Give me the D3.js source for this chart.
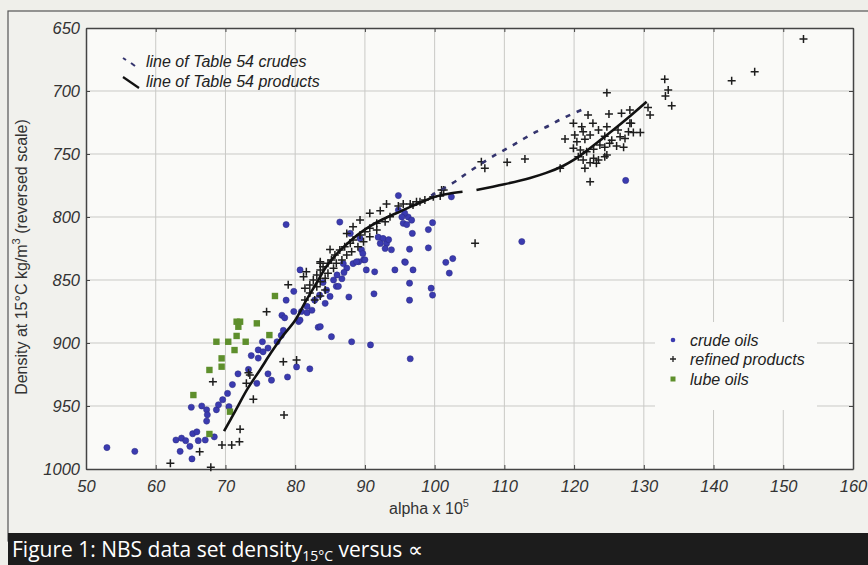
<!DOCTYPE html>
<html>
<head>
<meta charset="utf-8">
<script src="https://cdn.jsdelivr.net/npm/d3@7"></script>
<style>
  html, body { margin: 0; padding: 0; background: #efefea; }
  svg { display: block; }
</style>
</head>
<body>
<svg id="chart" width="868" height="565"></svg>
<script>
// ---------- DATA ----------
const xTicks = [50, 60, 70, 80, 90, 100, 110, 120, 130, 140, 150, 160];
const yTicks = [650, 700, 750, 800, 850, 900, 950, 1000];

// crude oils: [alpha x 1e5, density kg/m3]
const crudeOils = [
  [53,983],[57,986],[62.9,977],[63.5,986],[63.7,975.5],[64.3,977.5],[64.9,982],[65.2,992],
  [65.3,972],[65.9,970.5],[66.1,977.5],[67.1,977],[68.4,974.5],[65.1,951],[66.6,950],[67.3,953],
  [67.4,957],[67.3,962],[68.7,953],[69,949],[69.6,945],[70.3,940],[71,933],[71.8,924.5],
  [70.5,950.5],[74.5,932],[76.1,924.5],[76.6,929.5],[78.9,927],[80.2,919],[82.1,920.5],[73.3,921],
  [73.7,910],[74.7,912],[74.7,905.5],[75.4,907],[76.1,904],[75.3,899],[77.4,899],[78,894],
  [78.3,890],[79.8,859],[78.7,866],[78.1,878],[78.5,880],[79.8,875],[80.9,875],[81.7,876],
  [80.5,883],[83.3,887.5],[80.7,881.8],[81.7,871],[82.4,874],[84.3,868.5],[85,863],[85.9,855],
  [85.5,850],[86.2,855],[86.7,849],[80.7,842],[83.6,887],[85.2,895],[88.1,899],[90.8,901.5],
  [96.5,912.5],[87.7,863.5],[91.3,861],[94.3,842],[96.4,852.5],[96.4,866],[96.9,842],[95.7,835.5],
  [96.4,825.5],[96.8,813],[99.1,810],[99.7,804.5],[99.1,824.5],[99.5,856.5],[99.7,862],[96.2,800],
  [95.5,805],[93.1,821],[93.8,826],[91.9,816],[89.8,834],[89.1,835.5],[88.3,837],[90.2,842],
  [91.4,843.5],[87.4,840.5],[86.9,837],[88.8,835.5],[90,834],[89.3,817],[89.5,826],[89.7,829],
  [92.6,817],[93.4,818],[92.9,825],[92.2,821],[94.8,794.5],[95.7,797],[95.3,800],[96.7,802.5],
  [78.7,806],[86.4,804],[94.8,783],[87.9,813],[101.6,836],[102.6,833],[102.1,844.5],[112.5,819.5],
  [127.4,771],[102.4,784],[96,806],[95.8,836],[83.5,862],[84.5,858],[82.8,866],[86,846],
  [87,844],[84,852]
];

// refined products
const refinedProducts = [
  [68.2,930.7],[73.3,923.6],[73.5,925.4],[73.0,932],[74.0,944.7],[78.4,957.2],[72.1,968.5],[69.5,981],
  [70.9,981],[72.0,978.4],[66.3,986.3],[62.1,995.5],[67.9,998.7],[78.3,914.8],[80.2,913.5],[79.0,853.8],
  [75.9,875.2],[93.1,789.7],[85.0,825.7],[83.6,836.8],[81.6,843.4],[105.8,820.8],
  [93.6,799.8],[92.9,803.7],[91.7,805],[90.7,809],[90.0,811.7],[89.3,814.3],[88.3,818.3],[87.9,820.9],
  [87.1,823.6],[86.4,826.2],[85.7,830.2],[85.2,834.1],[84.7,836.8],[84.0,839.5],[83.6,842],[83.1,846],
  [82.6,850],[82.1,854],[81.4,856.6],
  [90.7,797.1],[89.3,802.4],[88.3,807.7],[87.4,813],[83.6,835.5],[81.2,847.4],[92.2,795],
  [94.8,791.3],[95.5,789.7],[96.5,789.7],[97.4,787.9],
  [91.7,810.3],[90.7,815.6],[89.8,819.6],[89.0,823.6],[88.1,827.5],[87.4,830.2],[86.7,834.1],[85.9,836.8],
  [85.5,840.7],[84.7,844.7],[84.3,848.7],[83.6,851.3],[83.1,855.3],
  [82.1,860.3],[82.8,865.9],[83.6,862.7],[81.4,865.9],[84.3,857.9],
  [96.9,790.5],[97.9,787.9],[98.6,786.5],[99.8,783.9],[100.8,783.3],[101.3,778.6],[101,778.6],
  [106.7,756.1],[107.2,761.4],[110.4,756.6],[112.95,754],[118,761.4],[122.3,772],
  [124.7,701.3],[133.0,690.7],[133.5,699.2],[133.1,704],[134.0,711.7],[142.6,691.8],[145.9,684.7],[152.9,658.7],
  [130.6,713],[130.9,719],[122.0,719],[125.0,718.3],[126.8,717.7],[128,715],[128.2,725.6],
  [119.9,725.6],[121.1,728.3],[121.3,732.3],[122.7,725.6],[124.7,728.3],[126.3,731],[128,725.6],[127.8,732.3],
  [128.5,733],[129.5,733],[118.7,738],
  [120.1,735],[120.4,740.2],[121.55,738.3],[122.3,735],[123.5,731],[124.4,735.9],[125.4,739],[126.6,736.3],[127.3,737.6],
  [119.9,745.4],[120.9,746.8],[121.8,748.2],[122.8,746.2],[123.7,742.9],[124.4,744.7],[125.1,741.5],[126.1,743.7],[127.1,744.7],
  [120.6,752.1],[121.3,754.8],[122.8,753.4],[123.5,754.8],[124.4,752.1],[124.7,750.8],
  [121.55,761.4],[122.3,756.9],[123.2,757.4]
];

// lube oils
const lubeOils = [
  [77.1,862.7],[71.6,883.1],[72.1,883.1],[71.85,887.1],[74.5,884.4],[71.6,894.4],[68.7,899],[70.4,899],
  [72.9,899],[76.3,893.7],[71.3,905.6],[69.45,912.2],[69.45,918.8],[67.7,921.4],[65.4,941.3],[70.65,954.5],
  [67.7,972.2]
];

// line of Table 54 crudes
const crudesLine = [
  [99.5,783],[102.9,772],[104.6,765.4],[107.9,753.4],[109.6,748],[111.3,742.8],[112.9,737.5],
  [114.6,732.3],[116.3,727.8],[117.9,723],[119.6,718.5],[121.3,714.5]
];
// line of Table 54 products (two segments)
const productsLineA = [
  [69.8,970],[71.5,953],[73.2,936],[75,921],[76.5,908],[78,896],[80,882],[81.5,867],[83,853],
  [84.5,839],[86,829],[87.5,821],[89,814],[90.7,807.5],[92.5,802],[94.5,797],[96.5,792],[98,788.5],
  [100,784],[102,781.5],[104,780]
];
const productsLineB = [
  [106,778.5],[110,774],[113.7,769],[116,765],[118.4,759.5],[120,754.5],[121.8,747.5],[124,738],
  [125.6,731],[128,720],[130.4,708.5]
];

// ---------- DRAW ----------
const svg = d3.select("#chart");
const W = 868, H = 565;
const x = d3.scaleLinear().domain([50, 160]).range([86, 853]);
const y = d3.scaleLinear().domain([650, 1000]).range([28, 469]);
const FONT = "Liberation Sans, Arial, sans-serif";

// page background & outer frame
svg.append("rect").attr("x", 0).attr("y", 0).attr("width", W).attr("height", H).attr("fill", "#efefea");
svg.append("rect").attr("x", 8).attr("y", 11).attr("width", 868).attr("height", 530)
  .attr("fill", "#f1f1ed").attr("stroke", "#555").attr("stroke-width", 1.2);

// plot background
svg.append("rect").attr("x", x(50)).attr("y", y(650)).attr("width", x(160) - x(50)).attr("height", y(1000) - y(650))
  .attr("fill", "#fafaf8");

// grid
const grid = svg.append("g");
grid.selectAll(".gx").data(xTicks.slice(1, -1)).join("line")
  .attr("x1", d => x(d)).attr("x2", d => x(d)).attr("y1", y(650)).attr("y2", y(1000))
  .attr("stroke", "#c9c9c6").attr("stroke-width", 1);
grid.selectAll(".gy").data(yTicks.slice(1, -1)).join("line")
  .attr("y1", d => y(d)).attr("y2", d => y(d)).attr("x1", x(50)).attr("x2", x(160))
  .attr("stroke", "#c9c9c6").attr("stroke-width", 1);

// legend box (bottom right) hides grid
svg.append("rect").attr("x", 655).attr("y", 322).attr("width", 162).attr("height", 88).attr("fill", "#fafaf8");

// axes (ticks inward)
const fmt = d3.format("d");
const axB = svg.append("g").attr("transform", `translate(0,${y(1000)})`)
  .call(d3.axisBottom(x).tickValues(xTicks).tickFormat(fmt).tickSize(-4).tickSizeOuter(0).tickPadding(11));
const axL = svg.append("g").attr("transform", `translate(${x(50)},0)`)
  .call(d3.axisLeft(y).tickValues(yTicks).tickFormat(fmt).tickSize(-4).tickSizeOuter(0).tickPadding(6));
const axT = svg.append("g").attr("transform", `translate(0,${y(650)})`)
  .call(d3.axisTop(x).tickValues(xTicks).tickSize(-4).tickSizeOuter(0).tickFormat(""));
const axR = svg.append("g").attr("transform", `translate(${x(160)},0)`)
  .call(d3.axisRight(y).tickValues(yTicks).tickSize(-4).tickSizeOuter(0).tickFormat(""));
[axB, axL, axT, axR].forEach(g => {
  g.select(".domain").attr("stroke", "#444").attr("stroke-width", 1.5);
  g.selectAll(".tick line").attr("stroke", "#444");
  g.selectAll(".tick text").attr("font-family", FONT)
    .attr("font-style", "italic").attr("font-size", 16.5).attr("fill", "#333");
});
axB.selectAll(".tick text").attr("dy", "0.71em");
axL.selectAll(".tick text").attr("dy", "0.35em");

// axis titles
const xl = svg.append("text").attr("x", 429).attr("y", 514).attr("text-anchor", "middle")
  .attr("font-family", FONT).attr("font-size", 16).attr("fill", "#333");
xl.append("tspan").text("alpha x 10");
xl.append("tspan").attr("dy", -7).attr("font-size", 11).text("5");

const yl = svg.append("text").attr("transform", "translate(27,257) rotate(-90)").attr("text-anchor", "middle")
  .attr("font-family", FONT).attr("font-size", 16).attr("fill", "#333");
yl.append("tspan").text("Density at 15°C kg/m");
yl.append("tspan").attr("dy", -7).attr("font-size", 11).text("3");
yl.append("tspan").attr("dy", 7).text(" (reversed scale)");

// marks
const plot = svg.append("g");
plot.selectAll(".crude").data(crudeOils).join("circle")
  .attr("cx", d => x(d[0])).attr("cy", d => y(d[1])).attr("r", 3.1)
  .attr("fill", "#3b3bb0").attr("stroke", "#2a2a80").attr("stroke-width", 0.5);
plot.selectAll(".lube").data(lubeOils).join("rect")
  .attr("x", d => x(d[0]) - 3.2).attr("y", d => y(d[1]) - 3.2).attr("width", 6.4).attr("height", 6.4)
  .attr("fill", "#5e8f2c");
plot.selectAll(".prod").data(refinedProducts).join("path")
  .attr("transform", d => `translate(${x(d[0])},${y(d[1])})`)
  .attr("d", "M-4,0H4M0,-4V4").attr("stroke", "#1e1e1e").attr("stroke-width", 1.5).attr("fill", "none");

const line = d3.line().x(d => x(d[0])).y(d => y(d[1])).curve(d3.curveCatmullRom);
plot.append("path").datum(crudesLine).attr("d", line).attr("fill", "none")
  .attr("stroke", "#34346e").attr("stroke-width", 2.6).attr("stroke-dasharray", "5,7");
[productsLineA, productsLineB].forEach(seg => {
  plot.append("path").datum(seg).attr("d", line).attr("fill", "none")
    .attr("stroke", "#111").attr("stroke-width", 2.6);
});

// top-left legend
const lg1 = svg.append("g").attr("font-family", FONT)
  .attr("font-style", "italic").attr("font-size", 16).attr("fill", "#222");
lg1.append("line").attr("x1", 123).attr("y1", 58).attr("x2", 126).attr("y2", 60).attr("stroke", "#34346e").attr("stroke-width", 2);
lg1.append("line").attr("x1", 131).attr("y1", 63).attr("x2", 135).attr("y2", 66).attr("stroke", "#34346e").attr("stroke-width", 2);
lg1.append("text").attr("x", 146).attr("y", 67).text("line of Table 54 crudes");
lg1.append("line").attr("x1", 123).attr("y1", 77).attr("x2", 139).attr("y2", 88).attr("stroke", "#111").attr("stroke-width", 2.2);
lg1.append("text").attr("x", 146).attr("y", 87).text("line of Table 54 products");

// bottom-right legend
const lg2 = svg.append("g").attr("font-family", FONT)
  .attr("font-style", "italic").attr("font-size", 16).attr("fill", "#222");
lg2.append("circle").attr("cx", 673).attr("cy", 340).attr("r", 2.3).attr("fill", "#3b3bb0");
lg2.append("text").attr("x", 690).attr("y", 346).text("crude oils");
lg2.append("path").attr("transform", "translate(673,359)").attr("d", "M-3,0H3M0,-3V3").attr("stroke", "#222").attr("stroke-width", 1.3);
lg2.append("text").attr("x", 690).attr("y", 365).text("refined products");
lg2.append("rect").attr("x", 670.5).attr("y", 376.5).attr("width", 5).attr("height", 5).attr("fill", "#5e8f2c");
lg2.append("text").attr("x", 690).attr("y", 385).text("lube oils");

// caption bar
svg.append("rect").attr("x", 8).attr("y", 533).attr("width", 860).attr("height", 32).attr("fill", "#1c1c1c");
const cap = svg.append("text").attr("x", 12).attr("y", 557).attr("fill", "#fff")
  .attr("font-family", "Open Sans, Noto Sans, sans-serif").attr("font-size", 21);
cap.append("tspan").text("Figure 1: NBS data set density");
cap.append("tspan").attr("dy", 4).attr("font-size", 14).text("15°C");
cap.append("tspan").attr("dy", -4).text(" versus ∝");
</script>
</body>
</html>
